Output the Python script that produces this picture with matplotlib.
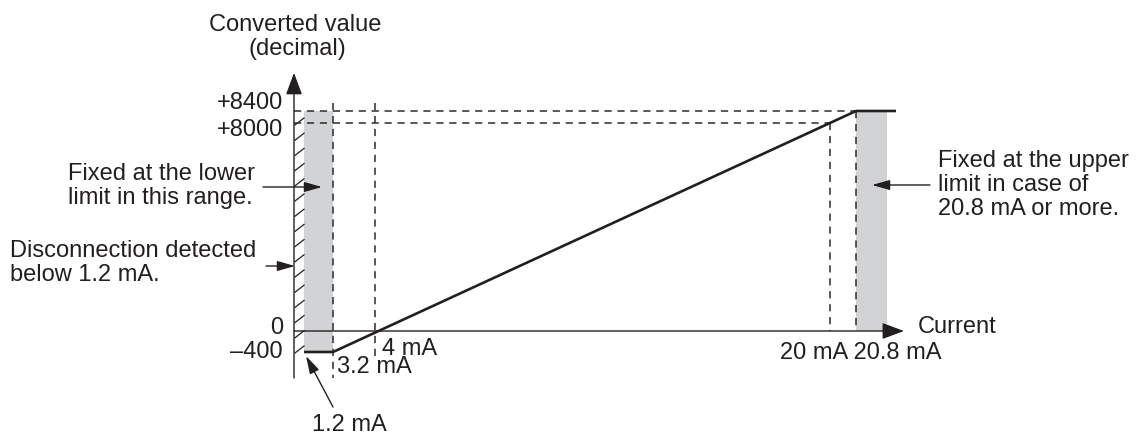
# analog input conversion characteristic (current -> converted value)

import numpy as np
import matplotlib.pyplot as plt

plt.rcParams['font.family'] = ['Liberation Sans', 'DejaVu Sans']

# data to plot
current = [1.2, 3.2, 20.8, 22.05]          # mA
value = [-400, -400, 8400, 8400]           # converted value
lower_band = (1.2, 3.2)
upper_band = (20.8, 21.77)
value_ticks = ['+8400', '+8000', '0', '\u2013400']
current_marks = [3.2, 4, 20, 20.8]

ink = '#231f20'
dash = '#333333'
band = '#d1d3d4'
fs = 17.0
W, H = 1142, 437

# schematic (piecewise) scales, like the drawing
x_pts = [-40, 0, 1.2, 3.2, 4, 20, 20.8, 40]
x_px = [294 - 40 * 8.33, 294, 304, 333, 375, 830, 856, 856 + 19.2 * 32]
y_pts = [-20000, -400, 0, 8000, 8400, 30000]
y_px = [85 - 19600 * 0.0525, 85, 106, 314.3, 326, 326 + 21600 * 0.03]


def xf(v):
    return np.interp(v, x_pts, x_px)


def xi(p):
    return np.interp(p, x_px, x_pts)


def yf(v):
    return np.interp(v, y_pts, y_px)


def yi(p):
    return np.interp(p, y_px, y_pts)


fig = plt.figure(figsize=(W / 100, H / 100), dpi=100)
ax = fig.add_axes([0, 0, 1, 1])
ax.set_xscale('function', functions=(xf, xi))
ax.set_yscale('function', functions=(yf, yi))
ax.set_xlim(xi(0), xi(W))
ax.set_ylim(yi(0), yi(H))
ax.axis('off')

# gray bands
ax.fill_betweenx([-400, 8400], lower_band[0], lower_band[1], color=band, lw=0)
ax.fill_betweenx([0, 8400], upper_band[0], upper_band[1], color=band, lw=0)

# short slashes next to the axis (hatching), one every 15 px
for h in np.arange(84, 320, 15.2):
    ax.plot([xi(295), xi(304)], [yi(h), yi(h + 7)], color=ink, lw=0.9)

# dashed guides
ds = dict(color=dash, lw=1.15, ls=(0, (4.5, 3.6)))
ax.plot([0, 20.8], [8400, 8400], **ds)
ax.plot([0, 20], [8000, 8000], **ds)
ax.plot([3.2, 3.2], [8670, -895], **ds)
ax.plot([4, 4], [8670, -495], **ds)
ax.plot([20, 20], [8000, 0], **ds)
ax.plot([20.8, 20.8], [8400, 0], **ds)

# characteristic
ax.plot(current, value, color=ink, lw=1.9, solid_capstyle='butt')

# axes with arrows
big = dict(arrowstyle='-|>,head_length=0.75,head_width=0.28', color=ink,
           lw=1.0, mutation_scale=18, shrinkA=0, shrinkB=0)
ax.annotate('', xy=(0, 9670), xytext=(0, -895), arrowprops=big)
ax.annotate('', xy=(22.3, 0), xytext=(0, 0), arrowprops=big)


def P(x, y):
    return (x, H - y)


small = dict(arrowstyle='-|>,head_length=0.6,head_width=0.17', color=ink,
             lw=1.0, mutation_scale=18, shrinkA=0, shrinkB=0)


def arrow(x0, y0, x1, y1):
    ax.annotate('', xy=P(x1, y1), xytext=P(x0, y0), xycoords='figure pixels',
                textcoords='figure pixels', arrowprops=small)


def label(x, y, s, ha='left', va='center'):
    fig.text(x / W, 1 - y / H, s, ha=ha, va=va, fontsize=fs, color=ink,
             linespacing=1.13)


# axis titles
label(295, 25, 'Converted value', ha='center')
label(297, 49, '(decimal)', ha='center')
label(918, 327, 'Current')

# value labels
for s, yy in zip(value_ticks, [103, 130, 328, 352]):
    label(283, yy, s, ha='right')

# current labels
label(337, 367, '3.2 mA')
label(382, 349, '4 mA')
label(780, 353, '20 mA 20.8 mA')
label(387, 425, '1.2 mA', ha='right')
arrow(333, 407, 306, 356)

# notes
label(68, 186, 'Fixed at the lower\nlimit in this range.')
arrow(263, 187, 322, 187)
label(10, 263, 'Disconnection detected\nbelow 1.2 mA.')
arrow(266, 266, 295, 266)
label(938, 185, 'Fixed at the upper\nlimit in case of\n20.8 mA or more.')
arrow(930, 185, 872, 185)

fig.savefig('out.png', dpi=100)
